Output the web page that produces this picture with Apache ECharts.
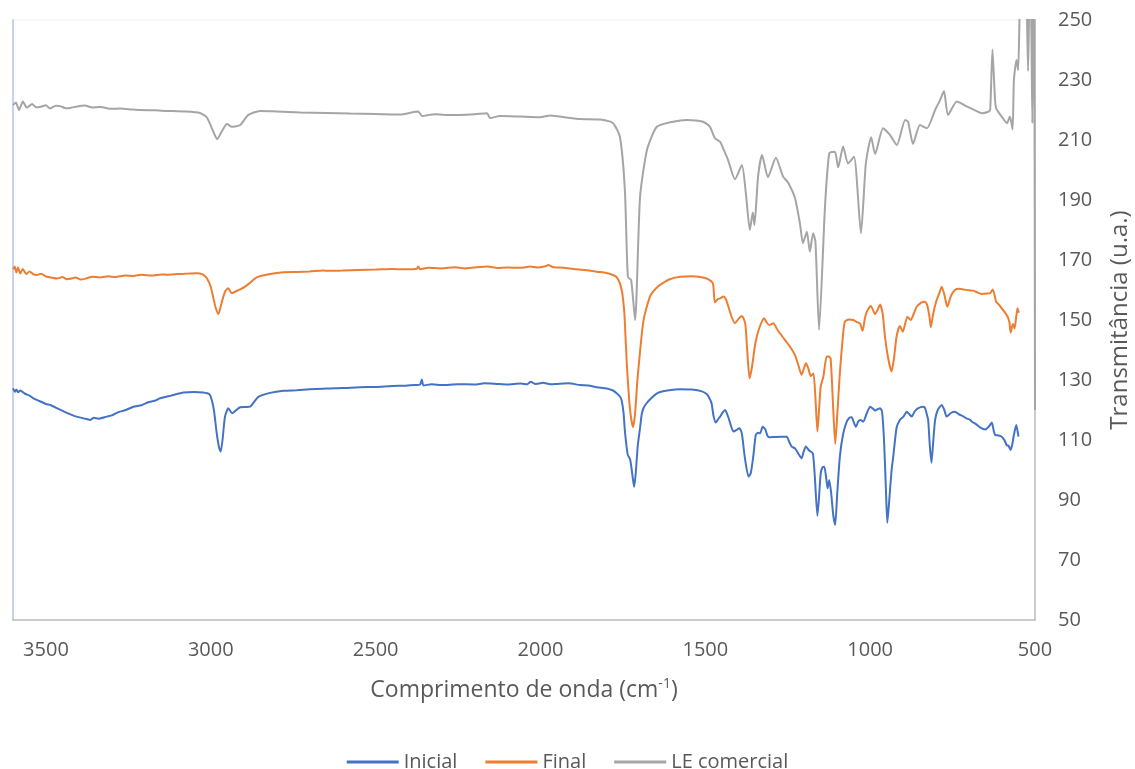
<!DOCTYPE html>
<html>
<head>
<meta charset="utf-8">
<title>Espectros FTIR</title>
<script src="https://cdn.jsdelivr.net/npm/echarts@6/dist/echarts.min.js"></script>
<style>
  html, body { margin: 0; padding: 0; background: #fff; }
  #chart { width: 1135px; height: 769px; }
</style>
</head>
<body>
<div id="chart"></div>
<script>
// ============================================================
// Dados (número de onda em cm-1, transmitância em u.a.)
// ============================================================
const seriesNames = ['Inicial', 'Final', 'LE comercial']

const inicial = [
  [3600, 127.2], [3594, 126.1], [3590, 126.8], [3584, 125.9], [3578, 126.5], [3565, 125.5], [3550, 124.8],
  [3538, 123.9], [3520, 123.0], [3500, 122.0], [3485, 121.6], [3467, 120.6], [3440, 119.2], [3420, 118.3],
  [3407, 117.8], [3385, 117.2], [3366, 116.7], [3355, 117.4], [3340, 117.1], [3316, 117.8], [3300, 118.2],
  [3280, 119.3], [3260, 119.9], [3235, 121.1], [3210, 121.6], [3190, 122.6], [3170, 123.1], [3154, 123.9],
  [3120, 124.8], [3083, 125.8], [3050, 126.0], [3023, 125.8], [3005, 125.3], [2997, 123.3], [2990, 119.5],
  [2982, 112.2], [2975, 107.5], [2970, 106.1], [2964, 110.5], [2957, 117.8], [2947, 120.6], [2940, 119.5],
  [2935, 118.9], [2925, 119.8], [2911, 120.9], [2895, 121.0], [2881, 121.1], [2868, 122.8], [2856, 124.4],
  [2820, 125.7], [2780, 126.4], [2740, 126.6], [2700, 126.9], [2660, 127.1], [2638, 127.2], [2600, 127.3],
  [2550, 127.6], [2500, 127.7], [2450, 128.0], [2410, 128.1], [2380, 128.3], [2365, 128.5], [2360, 130.2],
  [2355, 128.2], [2330, 128.6], [2300, 128.3], [2250, 128.6], [2200, 128.5], [2170, 128.9], [2133, 128.7],
  [2100, 128.5], [2060, 128.8], [2040, 128.6], [2030, 129.4], [2015, 128.7], [2000, 128.9], [1992, 129.1],
  [1970, 128.6], [1950, 128.7], [1915, 128.9], [1880, 128.3], [1855, 128.2], [1829, 127.6], [1799, 127.2],
  [1780, 126.5], [1769, 125.6], [1759, 124.5], [1754, 123.3], [1748, 119], [1744, 113], [1738, 107],
  [1735, 105], [1728, 103.5], [1722, 99], [1716, 94.3], [1711, 99], [1705, 108], [1698, 114], [1693, 118.5],
  [1688, 120.5], [1680, 122], [1668, 123.5], [1650, 125.3], [1637, 126], [1610, 126.6], [1577, 126.9],
  [1540, 126.8], [1510, 126.2], [1496, 125.3], [1488, 124], [1481, 122.2], [1475, 118], [1468, 115.8],
  [1462, 116.8], [1455, 117.8], [1447, 119.2], [1440, 120], [1430, 117.5], [1420, 114], [1414, 112.8],
  [1405, 113.4], [1396, 113.9], [1389, 112], [1380, 104], [1369, 97.8], [1362, 99], [1354, 105],
  [1347, 111.7], [1340, 112.4], [1334, 112.2], [1326, 114.4], [1318, 113.5], [1312, 111.5], [1306, 110.9],
  [1290, 111], [1270, 111.1], [1253, 111.1], [1246, 109.5], [1238, 107.8], [1228, 107.2], [1218, 105.5],
  [1208, 103.9], [1202, 106], [1195, 107.8], [1185, 106.5], [1174, 105.6], [1168, 98], [1160, 84.7],
  [1155, 91], [1150, 98.9], [1144, 101], [1139, 101.1], [1133, 97], [1129, 93.9], [1124, 96.7], [1118, 92],
  [1112, 85], [1106, 81.7], [1100, 92], [1092, 104.4], [1082, 112], [1071, 116.1], [1062, 117.5],
  [1056, 117.6], [1050, 116], [1043, 114.4], [1036, 116.2], [1029, 116.7], [1021, 116.1], [1010, 119],
  [1000, 121.1], [992, 120.5], [985, 119.8], [975, 120.4], [970, 120.6], [964, 119.5], [958, 110], [952, 93],
  [948, 82.4], [942, 90], [935, 100], [930, 104.4], [920, 114], [910, 116.7], [899, 117.8], [889, 119.4],
  [881, 118.6], [874, 117.8], [865, 119.5], [854, 120.6], [840, 121.1], [834, 120.8], [828, 118.5],
  [824, 116.7], [819, 108], [814, 102.4], [809, 109], [803, 116.7], [795, 120], [783, 121.7], [775, 120],
  [768, 117.8], [755, 119], [743, 119.4], [730, 118.5], [718, 117.9], [708, 117.2], [698, 116.8], [690, 116],
  [678, 115.2], [667, 114.2], [650, 113.5], [640, 114.5], [631, 115.8], [625, 113], [621, 111.7], [610, 111.5],
  [601, 111.1], [593, 110], [586, 108.3], [580, 108], [574, 106.7], [569, 108.5], [565, 111.1], [557, 115],
  [553, 113], [550, 111.1]
]

const final = [
  [3600, 166.9], [3595, 167.8], [3590, 165.8], [3585, 167.5], [3578, 165.5], [3570, 167], [3560, 165.3],
  [3550, 166.2], [3538, 165.2], [3528, 165], [3515, 165.4], [3500, 164.5], [3485, 164.2], [3467, 163.8],
  [3450, 164.3], [3437, 163.6], [3420, 163.9], [3410, 164.2], [3395, 163.5], [3380, 163.8], [3360, 164.4],
  [3336, 164.2], [3310, 164.6], [3290, 164.3], [3260, 164.8], [3235, 164.7], [3210, 165.1], [3180, 164.8],
  [3150, 165.2], [3134, 165.1], [3100, 165.3], [3080, 165.4], [3043, 165.6], [3025, 165.2], [3012, 163.9],
  [3000, 161], [2992, 157.2], [2985, 154], [2977, 152], [2970, 154.5], [2962, 157.8], [2955, 159.8],
  [2947, 160.6], [2937, 158.9], [2925, 159.5], [2911, 160.2], [2895, 161.2], [2881, 162.4], [2861, 164.2],
  [2820, 165.3], [2780, 165.9], [2740, 166.0], [2700, 166.2], [2660, 166.5], [2638, 166.4], [2600, 166.5],
  [2550, 166.7], [2500, 166.8], [2450, 167], [2410, 166.9], [2375, 167.1], [2371, 167.8], [2365, 166.9],
  [2340, 167.4], [2300, 167.2], [2260, 167.6], [2230, 167.2], [2200, 167.5], [2160, 167.8], [2130, 167.3],
  [2100, 167.5], [2060, 167.4], [2032, 167.8], [2010, 167.5], [1985, 167.9], [1977, 168.3], [1960, 167.6],
  [1930, 167.4], [1900, 167], [1860, 166.6], [1829, 166.1], [1800, 165.7], [1780, 165], [1769, 164.3],
  [1759, 162.2], [1752, 159], [1746, 153], [1744, 149], [1738, 135], [1730, 122], [1724, 116.5], [1719, 114.3],
  [1713, 119], [1706, 130], [1698, 139.5], [1693, 145], [1688, 149.5], [1680, 153.5], [1668, 157.8],
  [1663, 158.8], [1650, 160.5], [1637, 161.7], [1610, 163.5], [1577, 164.4], [1540, 164.6], [1500, 164],
  [1481, 162.8], [1476, 161.7], [1471, 155.8], [1462, 157], [1455, 157.2], [1445, 157.8], [1436, 156.5],
  [1430, 154.4], [1420, 151], [1410, 148.9], [1400, 150.3], [1389, 151.3], [1379, 148.9], [1373, 140],
  [1366, 130.6], [1359, 134], [1350, 141], [1344, 144.4], [1334, 148], [1322, 150.6], [1314, 149.2],
  [1306, 148.3], [1294, 148.9], [1280, 146.5], [1258, 143.3], [1243, 141.1], [1228, 138.3], [1218, 135],
  [1208, 131.7], [1202, 133.5], [1195, 135.6], [1188, 134], [1180, 131.3], [1172, 132.2], [1166, 124],
  [1160, 112.8], [1155, 120], [1150, 127.8], [1142, 131.1], [1132, 137.8], [1126, 137.8], [1120, 137.2],
  [1114, 125], [1106, 108.7], [1100, 118], [1092, 132.2], [1084, 143], [1077, 149.4], [1065, 150.2],
  [1051, 150], [1040, 149.3], [1031, 148.9], [1023, 146.4], [1016, 150.5], [1010, 152.8], [998, 154.7],
  [985, 152], [975, 154], [970, 155.2], [962, 152], [955, 144.4], [945, 137], [935, 132.8], [928, 137],
  [920, 144.4], [910, 148], [901, 146.1], [887, 151.1], [877, 150], [868, 152], [859, 154.4], [845, 155.8],
  [834, 156.1], [827, 155], [820, 151], [816, 147.6], [809, 152], [800, 156.1], [790, 159], [783, 161.1],
  [775, 158.5], [766, 154.4], [755, 158], [743, 160], [730, 160.4], [718, 160.2], [700, 159.9], [687, 159.8],
  [675, 159.2], [662, 158.7], [645, 158.8], [636, 158.9], [628, 160.2], [621, 157.5], [618, 156.1],
  [610, 155.2], [601, 153.9], [586, 151.7], [578, 149.5], [574, 145.8], [570, 147.5], [567, 148.7],
  [562, 147.2], [557, 151], [553, 153.9], [549, 152.4]
]

const leComercial = [
  [3600, 221.7], [3591, 222.5], [3582, 220], [3570, 222.8], [3558, 220.8], [3542, 222], [3530, 220.9],
  [3518, 221], [3500, 221.6], [3488, 220.5], [3470, 221.4], [3457, 221.3], [3440, 220.6], [3427, 220.7],
  [3405, 221.2], [3382, 221.5], [3360, 220.8], [3336, 221], [3300, 220.4], [3275, 220.5], [3240, 220.2],
  [3215, 220], [3170, 219.9], [3133, 219.7], [3078, 219.5], [3033, 219], [3012, 217.5], [2993, 213],
  [2981, 210.3], [2966, 213], [2951, 215.3], [2936, 214.4], [2911, 215], [2887, 218.3], [2851, 219.7],
  [2800, 219.5], [2729, 219.2], [2650, 219.0], [2578, 218.8], [2500, 218.7], [2426, 218.5], [2371, 219.5],
  [2359, 218], [2320, 218.6], [2274, 218.3], [2200, 218.6], [2162, 218.9], [2153, 217.3], [2123, 218],
  [2060, 217.8], [2001, 217.6], [1970, 218.2], [1941, 217.8], [1880, 217], [1819, 216.8], [1780, 215.6],
  [1759, 211], [1744, 193.3], [1735, 164.4], [1725, 163.3], [1713, 150], [1698, 191], [1677, 206.7],
  [1647, 214.4], [1598, 216.1], [1556, 216.7], [1507, 216.1], [1486, 214.4], [1471, 210.6], [1455, 209.4],
  [1446, 207.2], [1431, 203.3], [1410, 196.9], [1389, 201.7], [1377, 192.2], [1365, 180], [1356, 185.8],
  [1351, 181.7], [1340, 197.8], [1328, 205], [1310, 197.6], [1286, 204.1], [1264, 197.8], [1249, 195.8],
  [1228, 190.6], [1213, 182.2], [1204, 175.6], [1192, 179.4], [1183, 172.8], [1173, 178.9], [1166, 176.1],
  [1155, 146.7], [1137, 187.8], [1124, 205.6], [1107, 206.1], [1097, 200.9], [1082, 207.8], [1067, 202.2],
  [1049, 204.4], [1028, 178.9], [1013, 202.2], [997, 210.9], [985, 205.3], [961, 213.9], [940, 211.7],
  [919, 208.3], [894, 216.7], [885, 216.1], [870, 208.7], [849, 215], [828, 213.9], [803, 220], [788, 223.3],
  [776, 226.3], [764, 218.3], [737, 222.8], [706, 221.1], [688, 220.2], [661, 218.9], [642, 219.4], [636, 220],
  [629, 240.2], [622, 225], [618, 220.6], [597, 217.2], [585, 215.6], [576, 217.8], [568, 213.6], [564, 230],
  [556, 236.7], [551, 233.3], [546, 255], [540, 262], [534, 270], [528, 262], [525, 255], [521, 233],
  [516, 260], [512, 255], [508, 215.6], [505, 260], [502, 250], [500, 120]
]

const seriesData = [inicial, final, leComercial]
const seriesColors = ['#4472C4', '#ED7D31', '#A5A5A5']

// ============================================================
// Gráfico
// ============================================================
const chart = echarts.init(document.getElementById('chart'))
const font = '"Open Sans", "Noto Sans", sans-serif'
const textColor = '#595959'

const option = {
  backgroundColor: '#fff',
  animation: false,
  grid: {
    left: 13,
    right: 100,
    top: 20,
    bottom: 149,
    outerBoundsMode: 'none',
    show: true,
    borderColor: '#eef1f8',
    borderWidth: 1
  },
  legend: {
    data: seriesNames,
    top: 747,
    left: 'center',
    icon: 'rect',
    itemWidth: 52,
    itemHeight: 3,
    itemGap: 28,
    textStyle: { fontFamily: font, fontSize: 20, color: textColor }
  },
  xAxis: {
    type: 'value',
    inverse: true,
    min: 500,
    max: 3600,
    interval: 500,
    name: 'Comprimento de onda (cm{sup|-1})',
    nameLocation: 'middle',
    nameGap: 57,
    nameTextStyle: {
      fontFamily: font,
      fontSize: 23,
      color: textColor,
      rich: {
        sup: { fontFamily: font, fontSize: 14, color: textColor, verticalAlign: 'top', padding: [0, 0, 12, 0] }
      }
    },
    axisLine: { show: true, lineStyle: { color: '#bfbfbf', width: 1.5 } },
    axisTick: { show: false },
    splitLine: { show: false },
    axisLabel: {
      showMaxLabel: false,
      margin: 20,
      fontFamily: font,
      fontSize: 20,
      color: textColor,
      formatter: (value) => String(value)
    }
  },
  yAxis: [
    {
      type: 'value',
      position: 'right',
      min: 50,
      max: 250,
      interval: 20,
      name: 'Transmitância (u.a.)',
      nameLocation: 'middle',
      nameRotate: 90,
      nameGap: 73,
      nameTextStyle: { fontFamily: font, fontSize: 24, color: textColor },
      axisLine: { show: true, lineStyle: { color: '#bfbfbf', width: 1.5 } },
      axisTick: { show: false },
      splitLine: { show: false },
      axisLabel: { margin: 23, fontFamily: font, fontSize: 20, color: textColor }
    },
    {
      // borda esquerda da área do gráfico
      type: 'value',
      position: 'left',
      min: 50,
      max: 250,
      axisLine: { show: true, lineStyle: { color: '#c5d4ee', width: 2 } },
      axisTick: { show: false },
      axisLabel: { show: false },
      splitLine: { show: false }
    }
  ],
  series: seriesNames.map((name, i) => ({
    name: name,
    type: 'line',
    data: seriesData[i],
    yAxisIndex: 0,
    symbol: 'none',
    smooth: 0.2,
    clip: true,
    lineStyle: { color: seriesColors[i], width: 2 },
    itemStyle: { color: seriesColors[i] }
  }))
}

chart.setOption(option)
</script>
</body>
</html>
